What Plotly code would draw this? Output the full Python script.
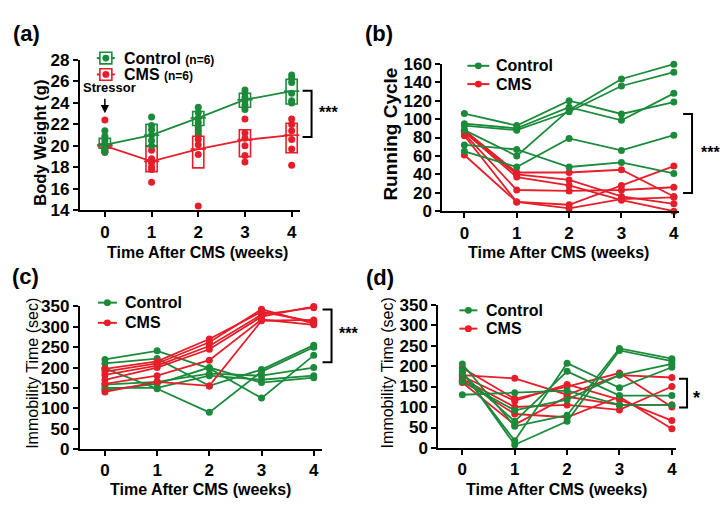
import plotly.graph_objects as go

W, H = 723, 510
GREEN = "#1b8b3b"
RED = "#e61e2a"
FONT = "Arial, Liberation Sans, sans-serif"

weeks = [0, 1, 2, 3, 4]

# ---------- (a) Body weight ----------
a_ctrl_mean = [20.1, 21.0, 22.6, 24.3, 25.1]
a_ctrl_low = [19.8, 20.0, 21.9, 23.6, 23.9]
a_ctrl_high = [20.7, 22.0, 23.2, 24.9, 26.2]
a_cms_mean = [20.0, 18.55, 19.7, 20.55, 21.0]
a_cms_low = [19.8, 17.6, 17.95, 19.0, 19.35]
a_cms_high = [20.2, 19.95, 20.9, 21.5, 22.1]
a_ctrl_points = [
    [21.4, 20.9, 20.5, 20.1, 19.7, 19.4],
    [22.7, 21.9, 21.5, 21.0, 20.5, 20.0],
    [23.6, 23.1, 22.6, 22.2, 21.8, 21.3],
    [25.2, 24.9, 24.5, 24.2, 23.8, 23.4],
    [26.6, 26.3, 25.9, 24.9, 24.2, 24.0],
]
a_cms_points = [
    [22.4, 20.2, 19.9, 19.7, 19.5, 19.4],
    [19.6, 18.8, 18.4, 18.0, 17.8, 16.6],
    [21.5, 21.0, 20.6, 20.1, 19.2, 14.4],
    [22.5, 21.2, 20.7, 20.0, 19.1, 18.5],
    [22.5, 22.0, 21.4, 20.6, 19.7, 18.2],
]

# ---------- (b) Running cycle (per animal) ----------
b_ctrl = [
    [106, 93, 120, 105.6, 118.5],
    [95, 90, 113, 98.7, 128],
    [93, 88, 108, 136, 151],
    [88, 60, 110, 143.6, 159.7],
    [72, 67, 48, 53, 41],
    [65, 48, 79, 66, 82.6],
]
b_cms = [
    [88, 42, 42, 45, 16],
    [87, 40, 34, 16, 8],
    [86, 37, 28, 12, 0],
    [84, 23, 22, 23, 26],
    [82, 10, 7, 28, 49],
    [61, 10, 3, 13, 15],
]

# ---------- (c) Immobility time ----------
c_ctrl = [
    [220, 241, 198, 125, 230],
    [210, 222, 155, 195, 255],
    [198, 148, 90, 190, 250],
    [158, 165, 185, 180, 200],
    [150, 150, 180, 170, 180],
    [145, 160, 200, 163, 175],
]
c_cms = [
    [197, 215, 270, 337, 313],
    [190, 210, 262, 343, 308],
    [182, 205, 253, 330, 347],
    [170, 200, 245, 325, 350],
    [160, 180, 218, 318, 305],
    [140, 165, 155, 315, 317],
]

# ---------- (d) Immobility time ----------
d_ctrl = [
    [205, 53, 80, 243, 218],
    [188, 8, 65, 238, 212],
    [185, 18, 207, 147, 197],
    [180, 65, 187, 128, 128],
    [162, 92, 118, 178, 205],
    [130, 135, 140, 105, 105],
]
d_cms = [
    [195, 120, 150, 183, 100],
    [178, 170, 130, 178, 172],
    [175, 115, 155, 118, 67],
    [168, 100, 105, 93, 150],
    [165, 83, 75, 125, 47],
    [160, 57, 125, 105, 105],
]


def px(x):
    return x / W


def py(y):
    return 1 - y / H


fig = go.Figure()

# panel (a)
for low, high, col in [(a_cms_low, a_cms_high, RED), (a_ctrl_low, a_ctrl_high, GREEN)]:
    fig.add_trace(go.Bar(x=weeks, y=[h - l for h, l in zip(high, low)], base=low, width=0.24,
                         marker=dict(color="rgba(255,255,255,0.15)", line=dict(color=col, width=1.6)),
                         xaxis="x", yaxis="y", showlegend=False, hoverinfo="skip"))
for pts, mean, col in [(a_cms_points, a_cms_mean, RED), (a_ctrl_points, a_ctrl_mean, GREEN)]:
    xs, ys = [], []
    for w, vals in zip(weeks, pts):
        xs += [w] * len(vals)
        ys += vals
    fig.add_trace(go.Scatter(x=xs, y=ys, mode="markers", marker=dict(color=col, size=7),
                             xaxis="x", yaxis="y", showlegend=False, cliponaxis=False))
    fig.add_trace(go.Scatter(x=weeks, y=mean, mode="lines+markers",
                             marker=dict(symbol="line-ew", size=11, line=dict(color=col, width=1.6)),
                             line=dict(color=col, width=1.8), xaxis="x", yaxis="y",
                             showlegend=False, cliponaxis=False))

# panels (b),(c),(d)
for ctrl, cms, ax in [(b_ctrl, b_cms, "2"), (c_ctrl, c_cms, "3"), (d_ctrl, d_cms, "4")]:
    order = [(cms, RED), (ctrl, GREEN)] if ax != "3" else [(ctrl, GREEN), (cms, RED)]
    for group, col in order:
        for animal in group:
            fig.add_trace(go.Scatter(x=weeks, y=animal, mode="lines+markers",
                                     line=dict(color=col, width=1.8),
                                     marker=dict(color=col, size=7),
                                     xaxis="x" + ax, yaxis="y" + ax,
                                     showlegend=False, cliponaxis=False))

# axes: pixel boxes (left, right, top, bottom)
panels = {
    "": dict(box=(80, 300, 53, 209), xr=[-0.535, 4.17], yr=[14, 28], dt=2),
    "2": dict(box=(443, 680, 57, 210), xr=[-0.42, 4.1], yr=[0, 160], dt=20),
    "3": dict(box=(80, 322, 309, 457), xr=[-0.48, 4.15], yr=[0, 350], dt=50),
    "4": dict(box=(439, 677, 307, 456), xr=[-0.457, 4.08], yr=[0, 350], dt=50),
}
xtickfont = dict(family=FONT, size=17, color="black", weight="bold")
ytickfont = dict(family=FONT, size=17, color="black", weight="bold")
common = dict(showgrid=False, zeroline=False, showline=True, linecolor="black", linewidth=2,
              ticks="outside", ticklen=5, tickwidth=2, tickcolor="black")
for k, p in panels.items():
    l, r, t, b = p["box"]
    fig.update_layout(**{
        "xaxis" + k: dict(domain=[px(l), px(r)], range=p["xr"], tickvals=weeks,
                          anchor="y" + k, tickfont=xtickfont, **common),
        "yaxis" + k: dict(domain=[py(b), py(t)], range=p["yr"], dtick=p["dt"], tick0=0,
                          anchor="x" + k, tickfont=ytickfont, **common),
    })

ann = []
shapes = []


def text(x, y, s, size=16, bold=True, angle=0, xanchor="center"):
    ann.append(dict(x=px(x), y=py(y), xref="paper", yref="paper", text=s, showarrow=False,
                    textangle=angle, xanchor=xanchor, yanchor="middle",
                    font=dict(family=FONT, size=size, color="black",
                              weight="bold" if bold else "normal")))


# panel labels
text(27, 25, "(a)", 22)
text(380, 25, "(b)", 22)
text(26, 278, "(c)", 22)
text(381, 279, "(d)", 22)

# x titles
for cx, cy in [(198, 253), (559, 253), (201, 499), (557, 499)]:
    text(cx, cy, "Time After CMS (weeks)", 16)
# y titles
text(40, 139, "Body Weight (g)", 16.5, angle=-90)
text(391, 130, "Running Cycle", 19, angle=-90)
text(33, 378, "Immobility Time (sec)", 16, bold=False, angle=-90)
text(388, 378, "Immobility Time (sec)", 16, bold=False, angle=-90)


def legend_row(x0, x1, cy, col, label, tx, box=False):
    shapes.append(dict(type="line", xref="paper", yref="paper", x0=px(x0), x1=px(x1),
                       y0=py(cy), y1=py(cy), line=dict(color=col, width=2)))
    cx = (x0 + x1) / 2
    if box:
        shapes.append(dict(type="rect", xref="paper", yref="paper", x0=px(cx - 6), x1=px(cx + 6),
                           y0=py(cy + 6), y1=py(cy - 6), line=dict(color=col, width=1.6),
                           fillcolor="white"))
    shapes.append(dict(type="circle", xref="paper", yref="paper", x0=px(cx - 3.5), x1=px(cx + 3.5),
                       y0=py(cy + 3.5), y1=py(cy - 3.5), line=dict(color=col, width=0),
                       fillcolor=col))
    text(tx, cy, label, 16, xanchor="left")


legend_row(97, 115, 51, GREEN, "Control <span style='font-size:12px'>(n=6)</span>", 122, True)
legend_row(97, 115, 68, RED, "CMS <span style='font-size:12px'>(n=6)</span>", 122, True)
legend_row(468, 490, 59, GREEN, "Control", 495)
legend_row(468, 490, 78, RED, "CMS", 495)
legend_row(98, 117, 305, GREEN, "Control", 123)
legend_row(98, 117, 326, RED, "CMS", 123)
legend_row(460, 478, 313, GREEN, "Control", 485)
legend_row(460, 478, 332, RED, "CMS", 485)


def bracket(xl, xv, yt, yb, label, lx, ly, size=16):
    shapes.append(dict(type="path", xref="paper", yref="paper",
                       path=f"M {px(xl)},{py(yt)} L {px(xv)},{py(yt)} L {px(xv)},{py(yb)} L {px(xl)},{py(yb)}",
                       line=dict(color="black", width=2)))
    text(lx, ly, label, size)


bracket(303, 312, 85, 133, "***", 329, 107)
bracket(684, 693, 109, 191, "***", 711, 149)
bracket(323, 332, 312, 367, "***", 349, 337)
bracket(680, 688, 384, 414, "*", 697, 404, 18)

# Stressor arrow
text(110, 82, "Stressor", 13)
ann.append(dict(x=0, y=23.05, xref="x", yref="y", ax=0, ay=-16, axref="pixel", ayref="pixel",
                showarrow=True, arrowhead=2, arrowsize=1.1, arrowwidth=1.5, arrowcolor="black", text=""))

fig.update_layout(width=W, height=H, margin=dict(l=0, r=0, t=0, b=0),
                  paper_bgcolor="white", plot_bgcolor="white", barmode="overlay",
                  showlegend=False, annotations=ann, shapes=shapes,
                  font=dict(family=FONT, color="black"))

fig.write_html("out.html")
